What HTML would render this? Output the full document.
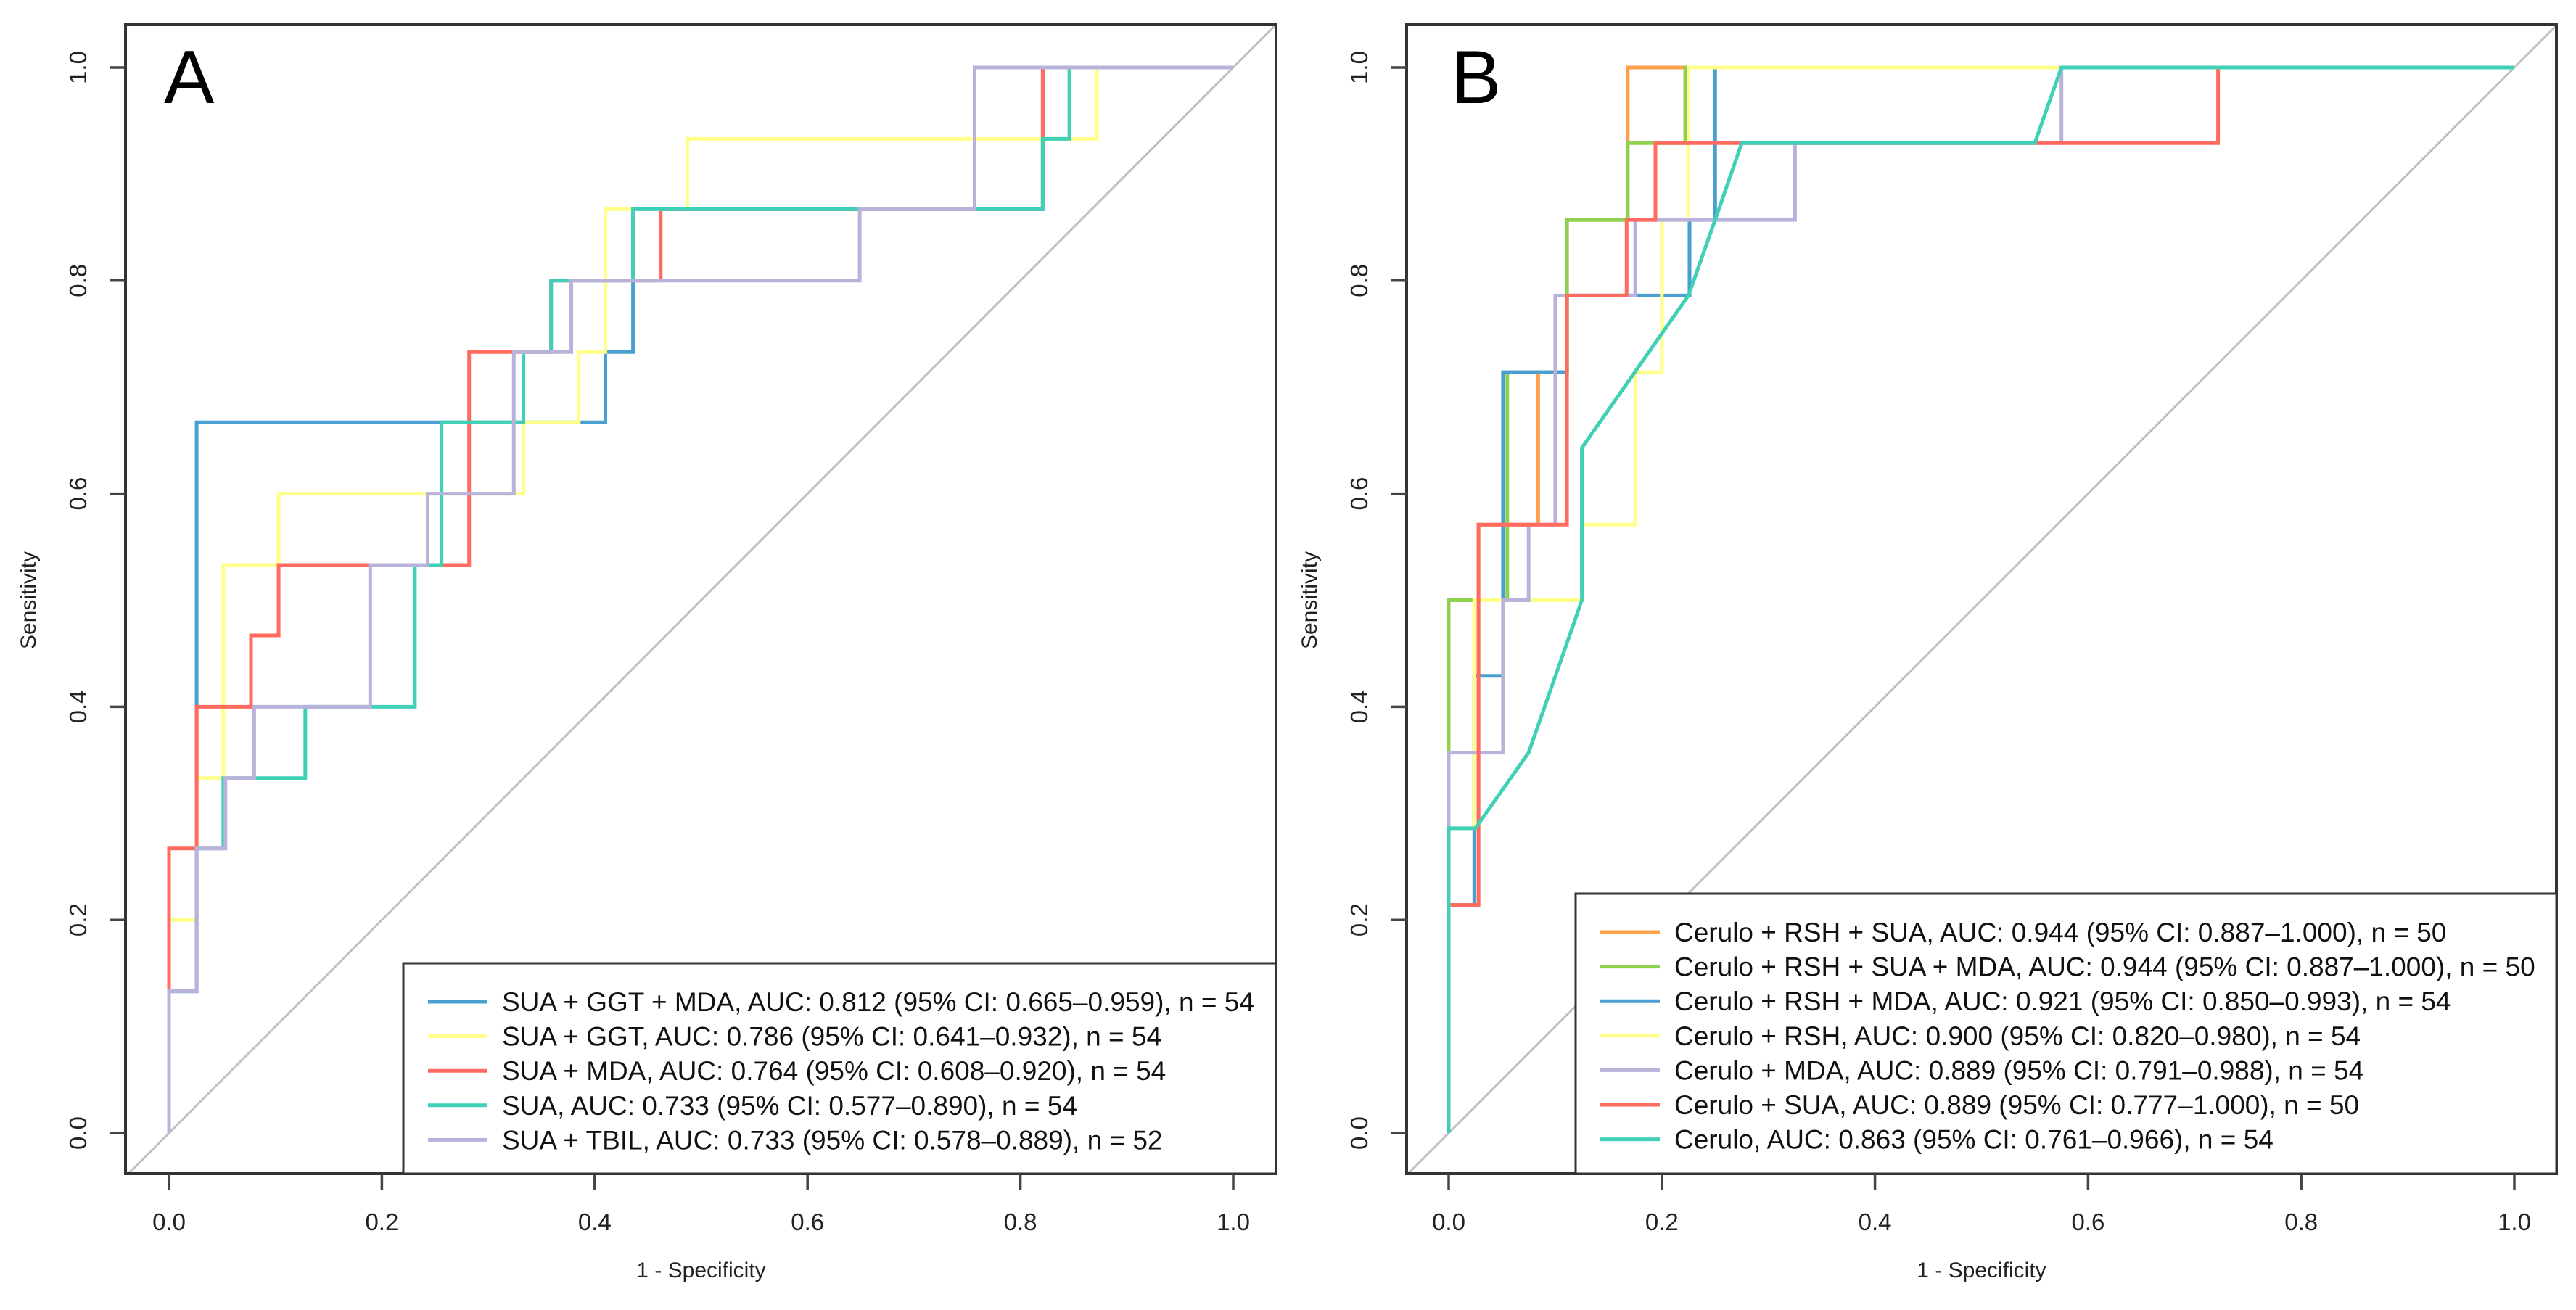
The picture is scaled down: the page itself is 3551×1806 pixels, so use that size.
<!DOCTYPE html>
<html><head><meta charset="utf-8"><style>
html,body{margin:0;padding:0;background:#fff;}
svg{display:block;font-family:"Liberation Sans",Arial,sans-serif;}
</style></head>
<body>
<svg id="fig" width="3551" height="1806" viewBox="0 0 3551 1806" xmlns="http://www.w3.org/2000/svg">
<rect width="3551" height="1806" fill="#fff"/>
</svg>
<script>
// ---- Panel A data ----
const aNames = ["SUA + GGT + MDA, AUC: 0.812 (95% CI: 0.665–0.959), n = 54","SUA + GGT, AUC: 0.786 (95% CI: 0.641–0.932), n = 54","SUA + MDA, AUC: 0.764 (95% CI: 0.608–0.920), n = 54","SUA, AUC: 0.733 (95% CI: 0.577–0.890), n = 54","SUA + TBIL, AUC: 0.733 (95% CI: 0.578–0.889), n = 52"];
const aColors = ["#4a9fd0","#ffff8a","#ff6b5e","#40d0b8","#b9b3dc"];
const aBlue = [[0,0],[0,0.133],[0.026,0.133],[0.026,0.667],[0.41,0.667],[0.41,0.733],[0.436,0.733],[0.436,0.867],[0.821,0.867],[0.821,1],[1,1]];
const aYellow = [[0,0],[0,0.2],[0.026,0.2],[0.026,0.333],[0.051,0.333],[0.051,0.533],[0.103,0.533],[0.103,0.6],[0.333,0.6],[0.333,0.667],[0.385,0.667],[0.385,0.733],[0.41,0.733],[0.41,0.867],[0.487,0.867],[0.487,0.933],[0.872,0.933],[0.872,1],[1,1]];
const aRed = [[0,0],[0,0.267],[0.026,0.267],[0.026,0.4],[0.077,0.4],[0.077,0.467],[0.103,0.467],[0.103,0.533],[0.282,0.533],[0.282,0.733],[0.359,0.733],[0.359,0.8],[0.462,0.8],[0.462,0.867],[0.821,0.867],[0.821,1],[1,1]];
const aTeal = [[0,0],[0,0.133],[0.026,0.133],[0.026,0.267],[0.051,0.267],[0.051,0.333],[0.128,0.333],[0.128,0.4],[0.231,0.4],[0.231,0.533],[0.256,0.533],[0.256,0.667],[0.333,0.667],[0.333,0.733],[0.359,0.733],[0.359,0.8],[0.436,0.8],[0.436,0.867],[0.821,0.867],[0.821,0.933],[0.846,0.933],[0.846,1],[1,1]];
const aPurple = [[0,0],[0,0.133],[0.026,0.133],[0.026,0.267],[0.053,0.267],[0.053,0.333],[0.08,0.333],[0.08,0.4],[0.189,0.4],[0.189,0.533],[0.243,0.533],[0.243,0.6],[0.324,0.6],[0.324,0.733],[0.378,0.733],[0.378,0.8],[0.649,0.8],[0.649,0.867],[0.757,0.867],[0.757,1],[1,1]];
// ---- Panel B data ----
const bNames = ["Cerulo + RSH + SUA, AUC: 0.944 (95% CI: 0.887–1.000), n = 50","Cerulo + RSH + SUA + MDA, AUC: 0.944 (95% CI: 0.887–1.000), n = 50","Cerulo + RSH + MDA, AUC: 0.921 (95% CI: 0.850–0.993), n = 54","Cerulo + RSH, AUC: 0.900 (95% CI: 0.820–0.980), n = 54","Cerulo + MDA, AUC: 0.889 (95% CI: 0.791–0.988), n = 54","Cerulo + SUA, AUC: 0.889 (95% CI: 0.777–1.000), n = 50","Cerulo, AUC: 0.863 (95% CI: 0.761–0.966), n = 54"];
const bColors = ["#fda04a","#8fd14f","#4a9fd0","#ffff8a","#b9b3dc","#ff6b5e","#40d0b8"];
const bOrange = [[0,0],[0,0.214],[0.028,0.214],[0.028,0.571],[0.084,0.571],[0.084,0.714],[0.111,0.714],[0.111,0.857],[0.168,0.857],[0.168,1],[1,1]];
const bGreen = [[0,0],[0,0.5],[0.055,0.5],[0.055,0.714],[0.111,0.714],[0.111,0.857],[0.168,0.857],[0.168,0.929],[0.222,0.929],[0.222,1],[1,1]];
const bBlue = [[0,0],[0,0.214],[0.024,0.214],[0.024,0.429],[0.051,0.429],[0.051,0.714],[0.111,0.714],[0.111,0.786],[0.226,0.786],[0.226,0.857],[0.25,0.857],[0.25,1],[1,1]];
const bYellow = [[0,0],[0,0.286],[0.024,0.286],[0.024,0.5],[0.125,0.5],[0.125,0.571],[0.175,0.571],[0.175,0.714],[0.2,0.714],[0.2,0.857],[0.225,0.857],[0.225,1],[1,1]];
const bPurple = [[0,0],[0,0.357],[0.051,0.357],[0.051,0.5],[0.075,0.5],[0.075,0.571],[0.1,0.571],[0.1,0.786],[0.175,0.786],[0.175,0.857],[0.325,0.857],[0.325,0.929],[0.575,0.929],[0.575,1],[1,1]];
const bRed = [[0,0],[0,0.214],[0.028,0.214],[0.028,0.571],[0.111,0.571],[0.111,0.786],[0.167,0.786],[0.167,0.857],[0.194,0.857],[0.194,0.929],[0.722,0.929],[0.722,1],[1,1]];
const bTeal = [[0,0],[0,0.286],[0.025,0.286],[0.075,0.357],[0.125,0.5],[0.125,0.643],[0.225,0.786],[0.25,0.857],[0.275,0.929],[0.55,0.929],[0.575,1],[1,1]];
const tickValues = [0,0.2,0.4,0.6,0.8,1.0];
const tickLabels = ["0.0","0.2","0.4","0.6","0.8","1.0"];

const NS = "http://www.w3.org/2000/svg";
const svg = document.getElementById("fig");
function mk(tag, attrs, parent){
  const e = document.createElementNS(NS, tag);
  for (const k in attrs) e.setAttribute(k, attrs[k]);
  (parent||svg).appendChild(e);
  return e;
}

function panel(cfg){
  const g = mk("g", {});
  
  
  const X0 = cfg.x0, X1 = cfg.x1, Y0 = 1562, Y1 = 93;
  const sx = v => X0 + v*(X1-X0);
  const sy = v => Y0 - v*(Y0-Y1);
  const bl = cfg.boxL, br = cfg.boxR, bt = 34, bb = 1618;
  const clipId = cfg.id + "-clip";
  const defs = mk("defs", {}, g);
  const cp = mk("clipPath", {id: clipId}, defs);
  mk("rect", {x: bl, y: bt, width: br-bl, height: bb-bt}, cp);
  const diag = mk("line", {x1: sx(-0.1), y1: sy(-0.1), x2: sx(1.1), y2: sy(1.1), stroke: "#c0c0c0", "stroke-width": 3, "clip-path": "url(#"+clipId+")"}, g);
  
  
  cfg.series.forEach((s, i) => {
    const d = s.map((p, j) => (j ? "L" : "M") + sx(p[0]).toFixed(1) + " " + sy(p[1]).toFixed(1)).join(" ");
    const path = mk("path", {d: d, fill: "none", stroke: cfg.colors[i], "stroke-width": 5, "clip-path": "url(#"+clipId+")"}, g);
    
    
  });
  const box = mk("rect", {x: bl, y: bt, width: br-bl, height: bb-bt, fill: "none", stroke: "#333", "stroke-width": 4}, g);
  
  
  tickValues.forEach((v, i) => {
    mk("line", {x1: sx(v), y1: bb, x2: sx(v), y2: bb+22, stroke: "#444", "stroke-width": 3.5}, g);
    const t = mk("text", {x: sx(v), y: 1696, "font-size": 33, "text-anchor": "middle", fill: "#222"}, g);
    t.textContent = tickLabels[i];
    
    
    mk("line", {x1: bl-22, y1: sy(v), x2: bl, y2: sy(v), stroke: "#444", "stroke-width": 3.5}, g);
    const ty = mk("text", {x: 0, y: 0, "font-size": 33, "text-anchor": "middle", fill: "#222", transform: "translate(" + (bl-54) + "," + sy(v) + ") rotate(-90)"}, g);
    ty.textContent = tickLabels[i];
    
    
  });
  const xt = mk("text", {x: (X0+X1)/2, y: 1761, "font-size": 30, "text-anchor": "middle", fill: "#222"}, g);
  xt.textContent = "1 - Specificity";
  
  
  const yt = mk("text", {x: 0, y: 0, "font-size": 30, "text-anchor": "middle", fill: "#222", transform: "translate(" + (bl-124) + "," + (Y0+Y1)/2 + ") rotate(-90)"}, g);
  yt.textContent = "Sensitivity";
  
  
  const lab = mk("text", {x: cfg.letterX, y: 142, "font-size": 104, fill: "#000"}, g);
  lab.textContent = cfg.letter;
  
  
  const lg = mk("g", {}, g);
  
  
  mk("rect", {x: cfg.legL, y: cfg.legT, width: br-cfg.legL, height: bb-cfg.legT, fill: "#fff", stroke: "#333", "stroke-width": 3}, lg);
  cfg.names.forEach((n, i) => {
    const y = cfg.legY0 + i*47.6;
    const ln = mk("line", {x1: cfg.legL+34, y1: y, x2: cfg.legL+116, y2: y, stroke: cfg.colors[i], "stroke-width": 5}, lg);
    
    
    const t = mk("text", {x: cfg.legL+136, y: y+13, "font-size": 37, fill: "#111"}, lg);
    t.textContent = n;
    
    
  });
}

panel({id: "a", letter: "A", letterX: 226, x0: 233, x1: 1700, boxL: 173, boxR: 1759,
  series: [aBlue, aYellow, aRed, aTeal, aPurple], colors: aColors, names: aNames,
  legL: 556, legT: 1328, legY0: 1381});
panel({id: "b", letter: "B", letterX: 2000, x0: 1997, x1: 3466, boxL: 1939, boxR: 3524,
  series: [bOrange, bGreen, bBlue, bYellow, bPurple, bRed, bTeal], colors: bColors, names: bNames,
  legL: 2172, legT: 1232, legY0: 1285});
</script>
</body></html>
